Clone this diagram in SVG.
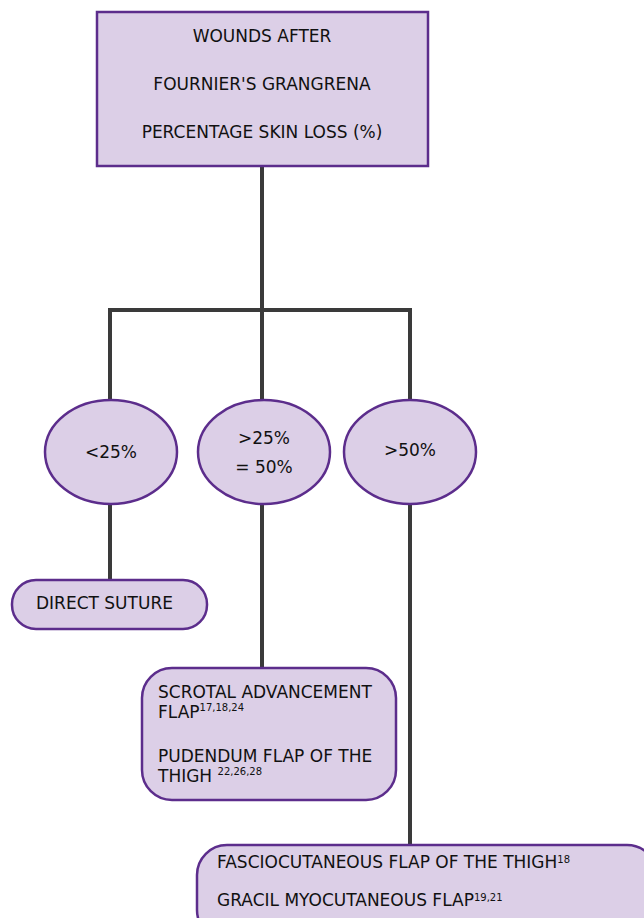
<svg xmlns="http://www.w3.org/2000/svg" width="644" height="918" viewBox="0 0 644 918">
<style>
.n{fill:#dccfe7;stroke:#5c2d8c;stroke-width:2.5}
.c{stroke:#3a3a3a;stroke-width:4;fill:none}
text{font-family:"DejaVu Sans",sans-serif;font-size:17px;fill:#111}
.m{text-anchor:middle}
.s{font-size:10px}
</style>
<rect width="644" height="918" fill="#fff"/>
<g id="connectors">
<path class="c" d="M262,166V310M109,310H411M110,308V400M262,310V400M410,308V400"/>
<path class="c" d="M110,504V580M262,504V668M410,504V845"/>
</g>
<g id="root">
<rect class="n" x="97" y="12" width="331" height="154"/>
<text class="m" x="262" y="42">WOUNDS AFTER</text>
<text class="m" x="262" y="90">FOURNIER'S GRANGRENA</text>
<text class="m" x="262" y="138">PERCENTAGE SKIN LOSS (%)</text>
</g>
<g id="lt25">
<ellipse class="n" cx="111" cy="452" rx="66" ry="52"/>
<text class="m" x="111" y="458">&lt;25%</text>
</g>
<g id="mid">
<ellipse class="n" cx="264" cy="452" rx="66" ry="52"/>
<text class="m" x="264" y="444">&gt;25%</text>
<text class="m" x="264" y="473">= 50%</text>
</g>
<g id="gt50">
<ellipse class="n" cx="410" cy="452" rx="66" ry="52"/>
<text class="m" x="410" y="456">&gt;50%</text>
</g>
<g id="direct">
<rect class="n" x="12" y="580" width="195" height="49" rx="24"/>
<text x="36" y="609">DIRECT SUTURE</text>
</g>
<g id="scrotal">
<rect class="n" x="142" y="668" width="254" height="132" rx="30"/>
<text x="158" y="698">SCROTAL ADVANCEMENT</text>
<text x="158" y="718">FLAP<tspan class="s" dy="-7">17,18,24</tspan></text>
<text x="158" y="762">PUDENDUM FLAP OF THE</text>
<text x="158" y="782">THIGH <tspan class="s" dy="-7">22,26,28</tspan></text>
</g>
<g id="fascio">
<rect class="n" x="197" y="845" width="460" height="95" rx="30"/>
<text x="217" y="868">FASCIOCUTANEOUS FLAP OF THE THIGH<tspan class="s" dy="-5">18</tspan></text>
<text x="217" y="906">GRACIL MYOCUTANEOUS FLAP<tspan class="s" dy="-5">19,21</tspan></text>
</g>
</svg>
